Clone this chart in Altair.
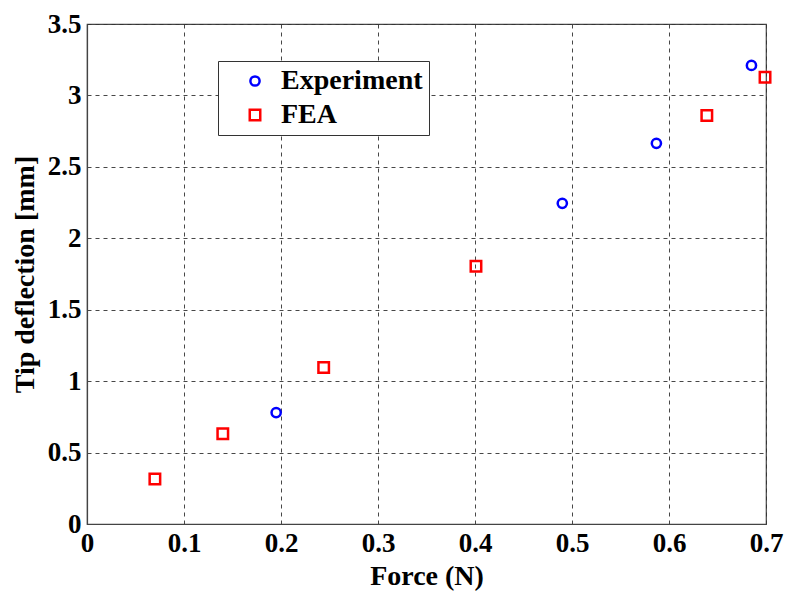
import altair as alt
import pandas as pd

exp_force = [0.195, 0.490, 0.587, 0.685]
exp_defl = [0.78, 2.245, 2.665, 3.21]
fea_force = [0.070, 0.140, 0.244, 0.401, 0.639, 0.699]
fea_defl = [0.315, 0.632, 1.096, 1.804, 2.86, 3.128]

df = pd.DataFrame({
    "force": exp_force + fea_force,
    "defl": exp_defl + fea_defl,
    "series": ["Experiment"] * len(exp_force) + ["FEA"] * len(fea_force),
})

x_ticks = [0, 0.1, 0.2, 0.3, 0.4, 0.5, 0.6, 0.7]
y_ticks = [0, 0.5, 1, 1.5, 2, 2.5, 3, 3.5]

FONT = "Liberation Serif"

chart = alt.Chart(df).mark_point(filled=False, strokeWidth=2.5, opacity=1).encode(
    x=alt.X("force:Q", title="Force (N)",
            scale=alt.Scale(domain=[0, 0.7], nice=False, zero=False),
            axis=alt.Axis(values=x_ticks, labelExpr="'' + datum.value", labelFlush=False)),
    y=alt.Y("defl:Q", title="Tip deflection [mm]",
            scale=alt.Scale(domain=[0, 3.5], nice=False, zero=False),
            axis=alt.Axis(values=y_ticks, labelExpr="'' + datum.value")),
    color=alt.Color("series:N", title=None,
                    scale=alt.Scale(domain=["Experiment", "FEA"], range=["#0000ff", "#ff0000"]),
                    legend=alt.Legend(orient="none", legendX=131, legendY=37,
                                      strokeColor="#333", fillColor="white",
                                      padding=6, labelFont=FONT, labelFontSize=28,
                                      labelFontWeight="bold", labelColor="black",
                                      symbolSize=90, symbolStrokeWidth=2.5,
                                      rowPadding=6, labelOffset=12,
                                      symbolOffset=17, labelLimit=300)),
    shape=alt.Shape("series:N",
                    scale=alt.Scale(domain=["Experiment", "FEA"], range=["circle", "square"])),
    size=alt.Size("series:N",
                  scale=alt.Scale(domain=["Experiment", "FEA"], range=[85, 110]),
                  legend=None),
).properties(
    width=679, height=500,
    autosize=alt.AutoSizeParams(type="none"),
    padding={"left": 79, "top": 16, "right": 26, "bottom": 74},
).configure_view(
    stroke="#444", strokeWidth=1.2
).configure_axis(
    grid=True, gridColor="#333", gridDash=[4, 4], gridOpacity=0.9, gridWidth=1,
    domain=True, domainColor="#444", domainWidth=1.2,
    ticks=False,
    labelFont=FONT, labelFontSize=27, labelFontWeight="bold", labelColor="black",
    titleFont=FONT, titleFontSize=28, titleFontWeight="bold", titleColor="black",
).configure_axisX(
    labelPadding=6, titlePadding=6
).configure_axisY(
    labelPadding=6, titlePadding=8
)

chart.save("out.html", embed_options={"renderer": "svg", "actions": False})
